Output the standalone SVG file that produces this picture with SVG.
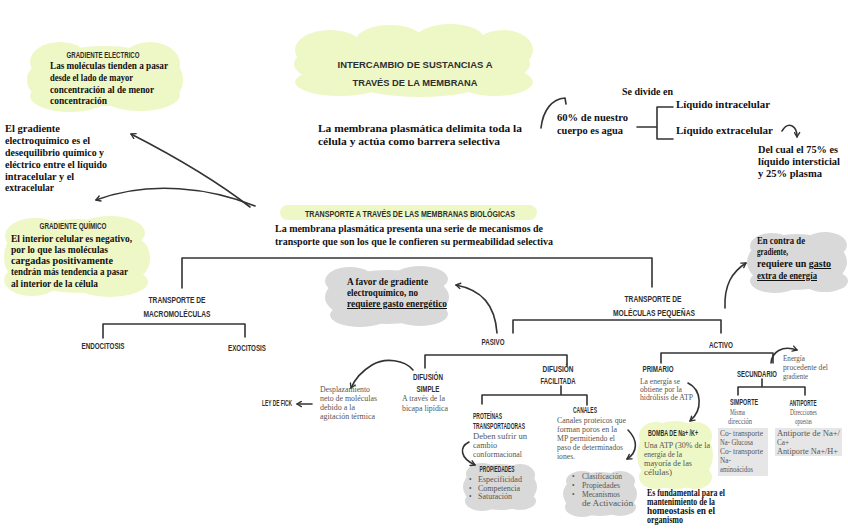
<svg xmlns="http://www.w3.org/2000/svg" width="848" height="530" viewBox="0 0 848 530">
<defs>
<style>
.h{font-family:"Liberation Sans",Arial,sans-serif;font-weight:bold;fill:#2e2e2e;font-size:9px}
.b{font-family:"Liberation Serif","Times New Roman",serif;font-weight:bold;fill:#111;font-size:10px}
.s{font-family:"Liberation Serif","Times New Roman",serif;fill:#555;font-size:7.2px}
.ln{fill:none;stroke:#333;stroke-width:1.6;stroke-linecap:round;stroke-linejoin:round}
.y{fill:#eef7c6}
.g{fill:#d9d9d9}
.bx{fill:#e6e6e6}
</style>
<marker id="ar" viewBox="0 0 8 8" refX="6" refY="4" markerWidth="7" markerHeight="7" orient="auto" markerUnits="userSpaceOnUse">
<path d="M1,1 L6,4 L1,7" fill="none" stroke="#333" stroke-width="1.6" stroke-linecap="round" stroke-linejoin="round"/>
</marker>
</defs>
<rect width="848" height="530" fill="#fff"/>

<g id="clouds">
<g class="y">
<ellipse cx="105" cy="76" rx="72" ry="30"/><ellipse cx="60" cy="62" rx="30" ry="20"/><ellipse cx="150" cy="64" rx="30" ry="22"/><ellipse cx="70" cy="96" rx="40" ry="16"/><ellipse cx="140" cy="95" rx="40" ry="16"/><ellipse cx="42" cy="80" rx="15" ry="16"/><ellipse cx="170" cy="80" rx="13" ry="18"/>
</g>
<g class="y">
<ellipse cx="412" cy="64" rx="118" ry="30"/><ellipse cx="330" cy="50" rx="35" ry="20"/><ellipse cx="390" cy="42" rx="35" ry="17"/><ellipse cx="450" cy="40" rx="35" ry="16"/><ellipse cx="503" cy="50" rx="30" ry="20"/><ellipse cx="340" cy="82" rx="45" ry="14"/><ellipse cx="420" cy="85" rx="60" ry="12"/><ellipse cx="495" cy="82" rx="38" ry="14"/>
</g>
<g class="y">
<ellipse cx="77" cy="256" rx="68" ry="37"/><ellipse cx="35" cy="236" rx="30" ry="18"/><ellipse cx="110" cy="233" rx="35" ry="17"/><ellipse cx="32" cy="280" rx="28" ry="16"/><ellipse cx="110" cy="282" rx="38" ry="15"/><ellipse cx="138" cy="258" rx="12" ry="18"/><ellipse cx="13" cy="257" rx="9" ry="18"/>
</g>
<g class="g">
<ellipse cx="387" cy="297" rx="62" ry="27"/><ellipse cx="350" cy="281" rx="25" ry="14"/><ellipse cx="420" cy="279" rx="28" ry="13"/><ellipse cx="360" cy="315" rx="30" ry="12"/><ellipse cx="420" cy="314" rx="28" ry="12"/>
</g>
<g class="g">
<ellipse cx="797" cy="262" rx="50" ry="28"/><ellipse cx="772" cy="246" rx="22" ry="13"/><ellipse cx="825" cy="245" rx="22" ry="13"/><ellipse cx="775" cy="281" rx="25" ry="12"/><ellipse cx="825" cy="281" rx="23" ry="11"/>
</g>
<g class="g">
<ellipse cx="500" cy="487" rx="37" ry="23"/><ellipse cx="482" cy="474" rx="16" ry="11"/><ellipse cx="520" cy="475" rx="15" ry="11"/><ellipse cx="482" cy="501" rx="17" ry="10"/><ellipse cx="520" cy="501" rx="16" ry="9"/>
</g>
<g class="g">
<ellipse cx="600" cy="494" rx="37" ry="22"/><ellipse cx="582" cy="481" rx="16" ry="10"/><ellipse cx="620" cy="481" rx="15" ry="10"/><ellipse cx="582" cy="507" rx="17" ry="10"/><ellipse cx="620" cy="507" rx="16" ry="9"/>
</g>
<g class="y">
<ellipse cx="675" cy="455" rx="38" ry="34"/><ellipse cx="656" cy="436" rx="17" ry="14"/><ellipse cx="695" cy="436" rx="17" ry="14"/><ellipse cx="656" cy="477" rx="17" ry="12"/><ellipse cx="695" cy="477" rx="17" ry="12"/>
</g>
<rect class="y" x="280" y="205" width="257" height="15" rx="7.5"/>
<rect class="bx" x="718" y="428" width="50" height="48"/>
<rect class="bx" x="775" y="428" width="67" height="28"/>
</g>

<g id="connectors">
<path class="ln" d="M250 207 Q205 172 131 134" marker-end="url(#ar)"/>
<path class="ln" d="M255 206 C210 188 150 180 96 200" marker-end="url(#ar)"/>
<path class="ln" d="M541 128 C543 110 552 99 565 98 L566 104"/>
<path class="ln" d="M637 127 H657 M657 107 V139 M657 107 H673 M657 139 H673"/>
<path class="ln" d="M782 131 C788 121 797 125 797 137" marker-end="url(#ar)"/>
<path class="ln" d="M182 288 V258 H652 V287"/>
<path class="ln" d="M103 338 V324 H245 V337"/>
<path class="ln" d="M513 333 V320 H721 V333"/>
<path class="ln" d="M497 333 C495 305 482 290 456 285" marker-end="url(#ar)"/>
<path class="ln" d="M725 308 C724 285 732 272 746 263" marker-end="url(#ar)"/>
<path class="ln" d="M425 368 V355 H567 V366"/>
<path class="ln" d="M413 370 C405 360 385 357 372 365 C362 371 355 379 351 388" marker-end="url(#ar)"/>
<path class="ln" d="M312 404 H297" marker-end="url(#ar)"/>
<path class="ln" d="M561 386 V395 M482 404 V395 H587 V405"/>
<path class="ln" d="M469 442 C459 447 460 458 475 465" marker-end="url(#ar)"/>
<path class="ln" d="M628 430 C638 440 638 452 627 459" marker-end="url(#ar)"/>
<path class="ln" d="M661 363 V353 H773 V363"/>
<path class="ln" d="M688 383 C702 390 703 410 690 421" marker-end="url(#ar)"/>
<path class="ln" d="M771 363 C772 352 782 345 797 350" marker-end="url(#ar)"/>
<path class="ln" d="M762 379 V387 M738 395 V387 H805 V395"/>
</g>

<g id="gradiente-electrico">
<text class="h" x="103" y="58" text-anchor="middle" font-size="8" textLength="73" lengthAdjust="spacingAndGlyphs">GRADIENTE ELECTRICO</text>
<text class="b" x="50" y="69" textLength="118" lengthAdjust="spacingAndGlyphs">Las moléculas tienden a pasar</text>
<text class="b" x="50" y="81" textLength="83" lengthAdjust="spacingAndGlyphs">desde el lado de mayor</text>
<text class="b" x="50" y="93" textLength="104" lengthAdjust="spacingAndGlyphs">concentración al de menor</text>
<text class="b" x="50" y="104" textLength="57" lengthAdjust="spacingAndGlyphs">concentración</text>
</g>

<g id="gradiente-electroquimico">
<text class="b" x="5" y="132" textLength="55" lengthAdjust="spacingAndGlyphs">El gradiente</text>
<text class="b" x="5" y="144" textLength="85" lengthAdjust="spacingAndGlyphs">electroquímico es el</text>
<text class="b" x="5" y="156" textLength="99" lengthAdjust="spacingAndGlyphs">desequilibrio químico y</text>
<text class="b" x="5" y="168" textLength="102" lengthAdjust="spacingAndGlyphs">eléctrico entre el líquido</text>
<text class="b" x="5" y="180" textLength="69" lengthAdjust="spacingAndGlyphs">intracelular y el</text>
<text class="b" x="5" y="191" textLength="49" lengthAdjust="spacingAndGlyphs">extracelular</text>
</g>

<g id="gradiente-quimico">
<text class="h" x="73" y="229" text-anchor="middle" font-size="8" textLength="67" lengthAdjust="spacingAndGlyphs">GRADIENTE QUÍMICO</text>
<text class="b" x="11" y="242" textLength="121" lengthAdjust="spacingAndGlyphs">El interior celular es negativo,</text>
<text class="b" x="11" y="253" textLength="97" lengthAdjust="spacingAndGlyphs">por lo que las moléculas</text>
<text class="b" x="11" y="264" textLength="102" lengthAdjust="spacingAndGlyphs">cargadas positivamente</text>
<text class="b" x="11" y="275" textLength="117" lengthAdjust="spacingAndGlyphs">tendrán más tendencia a pasar</text>
<text class="b" x="11" y="287" textLength="87" lengthAdjust="spacingAndGlyphs">al interior de la célula</text>
</g>

<g id="titulo">
<text class="h" x="415" y="68" text-anchor="middle" font-size="11" fill="#222" textLength="155" lengthAdjust="spacingAndGlyphs">INTERCAMBIO DE SUSTANCIAS A</text>
<text class="h" x="415" y="86" text-anchor="middle" font-size="11" fill="#222" textLength="125" lengthAdjust="spacingAndGlyphs">TRAVÉS DE LA MEMBRANA</text>
</g>

<g id="membrana">
<text class="b" x="318" y="132" font-size="11" textLength="204" lengthAdjust="spacingAndGlyphs">La membrana plasmática delimita toda la</text>
<text class="b" x="318" y="145" font-size="11" textLength="182" lengthAdjust="spacingAndGlyphs">célula y actúa como barrera selectiva</text>
</g>

<g id="agua">
<text class="b" x="622" y="95" font-size="9" textLength="51" lengthAdjust="spacingAndGlyphs">Se divide en</text>
<text class="b" x="557" y="121" font-weight="normal" font-size="11" textLength="71" lengthAdjust="spacingAndGlyphs">60% de nuestro</text>
<text class="b" x="557" y="134" font-weight="normal" font-size="11" textLength="66" lengthAdjust="spacingAndGlyphs">cuerpo es agua</text>
<text class="b" x="676" y="108" font-size="9.5" textLength="94" lengthAdjust="spacingAndGlyphs">Líquido intracelular</text>
<text class="b" x="676" y="134" font-size="9.5" textLength="97" lengthAdjust="spacingAndGlyphs">Líquido extracelular</text>
<text class="b" x="758" y="153" font-size="9.5" textLength="80" lengthAdjust="spacingAndGlyphs">Del cual el 75% es</text>
<text class="b" x="758" y="165" font-size="9.5" textLength="82" lengthAdjust="spacingAndGlyphs">líquido intersticial</text>
<text class="b" x="758" y="177" font-size="9.5" textLength="64" lengthAdjust="spacingAndGlyphs">y 25% plasma</text>
</g>

<g id="transporte">
<text class="h" x="410" y="217" text-anchor="middle" font-size="8.5" textLength="210" lengthAdjust="spacingAndGlyphs">TRANSPORTE A TRAVÉS DE LAS MEMBRANAS BIOLÓGICAS</text>
<text class="b" x="275" y="232" font-size="9.5" textLength="268" lengthAdjust="spacingAndGlyphs">La membrana plasmática presenta una serie de mecanismos de</text>
<text class="b" x="275" y="245" font-size="9.5" textLength="278" lengthAdjust="spacingAndGlyphs">transporte que son los que le confieren su permeabilidad selectiva</text>
</g>

<g id="macromoleculas">
<text class="h" x="177" y="303" text-anchor="middle" textLength="57" lengthAdjust="spacingAndGlyphs">TRANSPORTE DE</text>
<text class="h" x="177" y="317" text-anchor="middle" textLength="67" lengthAdjust="spacingAndGlyphs">MACROMOLÉCULAS</text>
</g>
<g id="endocitosis"><text class="h" x="103" y="349" text-anchor="middle" font-size="8.5" textLength="43" lengthAdjust="spacingAndGlyphs">ENDOCITOSIS</text></g>
<g id="exocitosis"><text class="h" x="247" y="351" text-anchor="middle" font-size="8.5" textLength="38" lengthAdjust="spacingAndGlyphs">EXOCITOSIS</text></g>

<g id="a-favor">
<text class="b" x="347" y="285" font-size="9.5" textLength="81" lengthAdjust="spacingAndGlyphs">A favor de gradiente</text>
<text class="b" x="347" y="296" font-size="9.5" textLength="71" lengthAdjust="spacingAndGlyphs">electroquímico, no</text>
<text class="b" x="347" y="307" font-size="9.5" text-decoration="underline" textLength="100" lengthAdjust="spacingAndGlyphs">requiere gasto energético</text>
</g>

<g id="moleculas-pequenas">
<text class="h" x="653" y="302" text-anchor="middle" textLength="57" lengthAdjust="spacingAndGlyphs">TRANSPORTE DE</text>
<text class="h" x="654" y="316" text-anchor="middle" textLength="82" lengthAdjust="spacingAndGlyphs">MOLÉCULAS PEQUEÑAS</text>
</g>

<g id="en-contra">
<text class="b" x="757" y="244" font-size="9.5" textLength="48" lengthAdjust="spacingAndGlyphs">En contra de</text>
<text class="b" x="757" y="255" font-size="9.5" textLength="31" lengthAdjust="spacingAndGlyphs">gradiente,</text>
<text class="b" x="757" y="267" font-size="9.5">requiere un <tspan text-decoration="underline">gasto</tspan></text>
<text class="b" x="757" y="279" font-size="9.5" text-decoration="underline" textLength="60" lengthAdjust="spacingAndGlyphs">extra de energía</text>
</g>

<g id="pasivo"><text class="h" x="493" y="345" text-anchor="middle" textLength="23" lengthAdjust="spacingAndGlyphs">PASIVO</text></g>
<g id="activo"><text class="h" x="721" y="348" text-anchor="middle" textLength="24" lengthAdjust="spacingAndGlyphs">ACTIVO</text></g>

<g id="difusion-simple">
<text class="h" x="428" y="380" text-anchor="middle" textLength="30" lengthAdjust="spacingAndGlyphs">DIFUSIÓN</text>
<text class="h" x="428" y="392" text-anchor="middle" textLength="23" lengthAdjust="spacingAndGlyphs">SIMPLE</text>
<text class="s" x="402" y="401" textLength="43" lengthAdjust="spacingAndGlyphs">A través de la</text>
<text class="s" x="402" y="411" textLength="46" lengthAdjust="spacingAndGlyphs">bicapa lipídica</text>
</g>

<g id="desplazamiento">
<text class="s" x="320" y="392" textLength="50" lengthAdjust="spacingAndGlyphs">Desplazamiento</text>
<text class="s" x="320" y="401" textLength="57" lengthAdjust="spacingAndGlyphs">neto de moléculas</text>
<text class="s" x="320" y="410" textLength="35" lengthAdjust="spacingAndGlyphs">debido a la</text>
<text class="s" x="320" y="419" textLength="55" lengthAdjust="spacingAndGlyphs">agitación térmica</text>
</g>

<g id="ley-fick"><text class="h" x="262" y="406" font-size="7" textLength="30" lengthAdjust="spacingAndGlyphs">LEY DE FICK</text></g>

<g id="difusion-facilitada">
<text class="h" x="558" y="372" text-anchor="middle" textLength="31" lengthAdjust="spacingAndGlyphs">DIFUSIÓN</text>
<text class="h" x="558" y="384" text-anchor="middle" textLength="35" lengthAdjust="spacingAndGlyphs">FACILITADA</text>
</g>

<g id="proteinas">
<text class="h" x="473" y="419" font-size="8" textLength="29" lengthAdjust="spacingAndGlyphs">PROTEÍNAS</text>
<text class="h" x="473" y="429" font-size="8" textLength="52" lengthAdjust="spacingAndGlyphs">TRANSPORTADORAS</text>
<text class="s" x="473" y="439" textLength="54" lengthAdjust="spacingAndGlyphs">Deben sufrir un</text>
<text class="s" x="473" y="448" textLength="24" lengthAdjust="spacingAndGlyphs">cambio</text>
<text class="s" x="473" y="457" textLength="49" lengthAdjust="spacingAndGlyphs">conformacional</text>
</g>

<g id="propiedades">
<text class="h" x="497" y="472" text-anchor="middle" font-size="7" textLength="35" lengthAdjust="spacingAndGlyphs">PROPIEDADES</text>
<text class="s" x="469" y="482">•</text><text class="s" x="478" y="482" textLength="44" lengthAdjust="spacingAndGlyphs">Especificidad</text>
<text class="s" x="469" y="491">•</text><text class="s" x="478" y="491" textLength="42" lengthAdjust="spacingAndGlyphs">Competencia</text>
<text class="s" x="469" y="499">•</text><text class="s" x="478" y="499" textLength="34" lengthAdjust="spacingAndGlyphs">Saturación</text>
</g>

<g id="canales">
<text class="h" x="585" y="413" text-anchor="middle" font-size="8" textLength="24" lengthAdjust="spacingAndGlyphs">CANALES</text>
<text class="s" x="557" y="423" textLength="69" lengthAdjust="spacingAndGlyphs">Canales proteicos que</text>
<text class="s" x="557" y="432" textLength="60" lengthAdjust="spacingAndGlyphs">forman poros en la</text>
<text class="s" x="557" y="441" textLength="58" lengthAdjust="spacingAndGlyphs">MP permitiendo el</text>
<text class="s" x="557" y="450" textLength="66" lengthAdjust="spacingAndGlyphs">paso de determinados</text>
<text class="s" x="557" y="459" textLength="18" lengthAdjust="spacingAndGlyphs">iones.</text>
</g>

<g id="clasificacion">
<text class="s" x="572" y="479">•</text><text class="s" x="582" y="479" textLength="40" lengthAdjust="spacingAndGlyphs">Clasificación</text>
<text class="s" x="572" y="488">•</text><text class="s" x="582" y="488" textLength="38" lengthAdjust="spacingAndGlyphs">Propiedades</text>
<text class="s" x="572" y="497">•</text><text class="s" x="582" y="497" textLength="38" lengthAdjust="spacingAndGlyphs">Mecanismos</text>
<text class="s" x="582" y="506" textLength="51" lengthAdjust="spacingAndGlyphs">de Activación</text>
</g>

<g id="primario">
<text class="h" x="658" y="372" text-anchor="middle" textLength="31" lengthAdjust="spacingAndGlyphs">PRIMARIO</text>
<text class="s" x="640" y="384" font-size="6.8" textLength="40" lengthAdjust="spacingAndGlyphs">La energía se</text>
<text class="s" x="640" y="392" font-size="6.8" textLength="42" lengthAdjust="spacingAndGlyphs">obtiene por la</text>
<text class="s" x="640" y="400" font-size="6.8" textLength="53" lengthAdjust="spacingAndGlyphs">hidrólisis de ATP</text>
</g>

<g id="bomba">
<text class="h" x="648" y="436" font-size="7" textLength="50" lengthAdjust="spacingAndGlyphs">BOMBA DE Na+ /K+</text>
<text class="s" x="644" y="448" textLength="66" lengthAdjust="spacingAndGlyphs">Una ATP (30% de la</text>
<text class="s" x="644" y="457" textLength="38" lengthAdjust="spacingAndGlyphs">energía de la</text>
<text class="s" x="644" y="466" textLength="48" lengthAdjust="spacingAndGlyphs">mayoría de las</text>
<text class="s" x="644" y="475" textLength="28" lengthAdjust="spacingAndGlyphs">células)</text>
</g>

<g id="fundamental">
<text class="b" x="647" y="496" font-size="7.3" textLength="78" lengthAdjust="spacingAndGlyphs">Es fundamental para el</text>
<text class="b" x="647" y="505" font-size="7.3" textLength="68" lengthAdjust="spacingAndGlyphs">mantenimiento de la</text>
<text class="b" x="647" y="514" font-size="7.3" textLength="68" lengthAdjust="spacingAndGlyphs">homeostasis en el</text>
<text class="b" x="647" y="523" font-size="7.3" textLength="36" lengthAdjust="spacingAndGlyphs">organismo</text>
</g>

<g id="secundario">
<text class="h" x="757" y="377" text-anchor="middle" textLength="40" lengthAdjust="spacingAndGlyphs">SECUNDARIO</text>
<text class="s" x="783" y="361" textLength="22" lengthAdjust="spacingAndGlyphs">Energía</text>
<text class="s" x="783" y="370" textLength="45" lengthAdjust="spacingAndGlyphs">procedente del</text>
<text class="s" x="783" y="379" textLength="25" lengthAdjust="spacingAndGlyphs">gradiente</text>
</g>

<g id="simporte">
<text class="h" x="744" y="405" text-anchor="middle" font-size="8" textLength="28" lengthAdjust="spacingAndGlyphs">SIMPORTE</text>
<text class="s" x="730" y="415" textLength="15" lengthAdjust="spacingAndGlyphs">Misma</text>
<text class="s" x="728" y="424" textLength="24" lengthAdjust="spacingAndGlyphs">dirección</text>
<text class="s" x="720" y="436" textLength="43" lengthAdjust="spacingAndGlyphs">Co- transporte</text>
<text class="s" x="720" y="445" textLength="33" lengthAdjust="spacingAndGlyphs">Na- Glucosa</text>
<text class="s" x="720" y="454" textLength="43" lengthAdjust="spacingAndGlyphs">Co- transporte</text>
<text class="s" x="720" y="463">Na-</text>
<text class="s" x="720" y="472" textLength="33" lengthAdjust="spacingAndGlyphs">aminoácidos</text>
</g>

<g id="antiporte">
<text class="h" x="803" y="406" text-anchor="middle" font-size="8" textLength="27" lengthAdjust="spacingAndGlyphs">ANTIPORTE</text>
<text class="s" x="790" y="415" textLength="27" lengthAdjust="spacingAndGlyphs">Direcciones</text>
<text class="s" x="795" y="424" textLength="17" lengthAdjust="spacingAndGlyphs">opuestas</text>
<text class="s" x="777" y="436" textLength="63" lengthAdjust="spacingAndGlyphs">Antiporte de Na+/</text>
<text class="s" x="777" y="445">Ca+</text>
<text class="s" x="777" y="454" textLength="61" lengthAdjust="spacingAndGlyphs">Antiporte Na+/H+</text>
</g>
</svg>
